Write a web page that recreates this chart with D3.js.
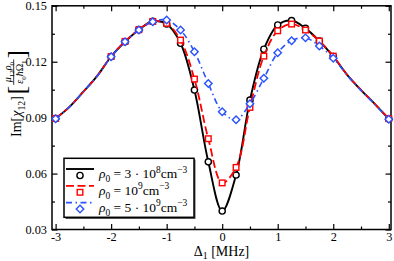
<!DOCTYPE html>
<html>
<head>
<meta charset="utf-8">
<script src="https://cdn.jsdelivr.net/npm/d3@7"></script>
<style>
  body { margin: 0; background: #fff; }
  svg { display: block; }
</style>
</head>
<body>
<div id="chart"></div>
<script>
// detuning grid [MHz] and Im[chi12] for the three densities
var detuning = [-3, -2.75, -2.5, -2.25, -2, -1.75, -1.5, -1.25, -1, -0.75, -0.5, -0.25,
                0, 0.25, 0.5, 0.75, 1, 1.25, 1.5, 1.75, 2, 2.25, 2.5, 2.75, 3];
var rho3e8 = [0.0895, 0.0958, 0.1039, 0.1124, 0.1228, 0.1307, 0.1372, 0.1417, 0.1402, 0.1299, 0.1048, 0.0663,
              0.0399, 0.0592, 0.0994, 0.1267, 0.1397, 0.1421, 0.1379, 0.1311, 0.1228, 0.1130, 0.1048, 0.0973, 0.0893];
var rho1e9 = [0.0896, 0.0958, 0.1039, 0.1124, 0.1228, 0.1309, 0.1372, 0.1416, 0.1406, 0.1316, 0.1107, 0.0787,
              0.0550, 0.0633, 0.0955, 0.1230, 0.1366, 0.1402, 0.1370, 0.1311, 0.1230, 0.1130, 0.1048, 0.0973, 0.0895];
var rho5e9 = [0.0894, 0.0958, 0.1039, 0.1124, 0.1227, 0.1307, 0.1370, 0.1415, 0.1424, 0.1370, 0.1254, 0.1083,
              0.0932, 0.0889, 0.0975, 0.1111, 0.1248, 0.1313, 0.1328, 0.1284, 0.1219, 0.1128, 0.1046, 0.0971, 0.0891];
// detunings where a symbol is drawn
var markerDetuning = [-3, -2, -1.75, -1.5, -1.25, -1, -0.75, -0.5, -0.25, 0, 0.25, 0.5, 0.75, 1, 1.25, 1.5, 1.75, 2, 3];

var xTicks = [-3, -2, -1, 0, 1, 2, 3];
var xTickLabels = ["-3", "-2", "-1", "0", "1", "2", "3"];
var xMinorTicks = [-2.5, -1.5, -0.5, 0.5, 1.5, 2.5];
var yTicks = [0.03, 0.06, 0.09, 0.12, 0.15];
var yTickLabels = ["0.03", "0.06", "0.09", "0.12", "0.15"];
var yMinorTicks = [0.045, 0.075, 0.105, 0.135];

var width = 394, height = 261;
var plotLeft = 52, plotRight = 391, plotTop = 5.8, plotBottom = 229.5;
var FONT = "'Liberation Serif', 'Times New Roman', serif";

var svg = d3.select("#chart").append("svg")
    .attr("width", width)
    .attr("height", height)
    .style("font-family", FONT);

var x = d3.scaleLinear().domain([-3.065, 3.04]).range([plotLeft, plotRight]);
var y = d3.scaleLinear().domain([0.03, 0.15]).range([plotBottom, plotTop]);

// writes text with italic / sub / sup pieces as tspans
function richText(sel, parts, size, subShift) {
    var shift = 0;
    subShift = subShift || 0.3;
    parts.forEach(function (p) {
        var kind = p[1] || "";
        var target = kind.indexOf("sub") >= 0 ? size * subShift : (kind.indexOf("sup") >= 0 ? -size * 0.42 : 0);
        var t = sel.append("tspan").text(p[0]).attr("dy", target - shift);
        if (kind.indexOf("sub") >= 0 || kind.indexOf("sup") >= 0) t.attr("font-size", size * 0.7);
        if (kind.charAt(0) === "i") t.attr("font-style", "italic");
        shift = target;
    });
}

// axes, ticks pointing inward on all four sides
function styleAxis(g) {
    g.select(".domain").remove();
    g.selectAll("line").attr("stroke", "#000").attr("stroke-width", 1.2);
    g.selectAll("text").attr("fill", "#000").style("font-family", FONT).attr("font-size", 12.3);
}
svg.append("g").attr("transform", "translate(0," + plotBottom + ")")
    .call(d3.axisBottom(x).tickValues(xTicks).tickFormat(function (d, i) { return xTickLabels[i]; })
        .tickSizeInner(-5.5).tickSizeOuter(0).tickPadding(2.6))
    .call(styleAxis);
svg.append("g").attr("transform", "translate(0," + plotBottom + ")")
    .call(d3.axisBottom(x).tickValues(xMinorTicks).tickFormat("").tickSizeInner(-3).tickSizeOuter(0))
    .call(styleAxis);
svg.append("g").attr("transform", "translate(0," + plotTop + ")")
    .call(d3.axisTop(x).tickValues(xTicks).tickFormat("").tickSizeInner(-5.5).tickSizeOuter(0))
    .call(styleAxis);
svg.append("g").attr("transform", "translate(0," + plotTop + ")")
    .call(d3.axisTop(x).tickValues(xMinorTicks).tickFormat("").tickSizeInner(-3).tickSizeOuter(0))
    .call(styleAxis);
svg.append("g").attr("transform", "translate(" + plotLeft + ",0)")
    .call(d3.axisLeft(y).tickValues(yTicks).tickFormat(function (d, i) { return yTickLabels[i]; })
        .tickSizeInner(-5.5).tickSizeOuter(0).tickPadding(5))
    .call(styleAxis);
svg.append("g").attr("transform", "translate(" + plotLeft + ",0)")
    .call(d3.axisLeft(y).tickValues(yMinorTicks).tickFormat("").tickSizeInner(-3).tickSizeOuter(0))
    .call(styleAxis);
svg.append("g").attr("transform", "translate(" + plotRight + ",0)")
    .call(d3.axisRight(y).tickValues(yTicks).tickFormat("").tickSizeInner(-5.5).tickSizeOuter(0))
    .call(styleAxis);
svg.append("g").attr("transform", "translate(" + plotRight + ",0)")
    .call(d3.axisRight(y).tickValues(yMinorTicks).tickFormat("").tickSizeInner(-3).tickSizeOuter(0))
    .call(styleAxis);

svg.append("rect")
    .attr("x", plotLeft).attr("y", plotTop)
    .attr("width", plotRight - plotLeft).attr("height", plotBottom - plotTop)
    .attr("fill", "none").attr("stroke", "#000").attr("stroke-width", 1.5);

// series
var series = [
    { values: rho3e8, color: "#000000", dash: null, width: 1.9, symbol: "circle",
      label: [["ρ", "i"], ["0", "sub"], [" = 3 · 10", ""], ["8", "sup"], ["cm", ""], ["−3", "sup"]] },
    { values: rho1e9, color: "#ff0000", dash: "8,3.5", width: 1.8, symbol: "square",
      label: [["ρ", "i"], ["0", "sub"], [" = 10", ""], ["9", "sup"], ["cm", ""], ["−3", "sup"]] },
    { values: rho5e9, color: "#2a52ff", dash: "6,3.5,1.5,3.5", width: 1.6, symbol: "diamond",
      label: [["ρ", "i"], ["0", "sub"], [" = 5 · 10", ""], ["9", "sup"], ["cm", ""], ["−3", "sup"]] }
];

var line = d3.line()
    .x(function (d) { return x(d[0]); })
    .y(function (d) { return y(d[1]); })
    .curve(d3.curveCatmullRom.alpha(0.5));

function drawSymbol(g, kind, color) {
    if (kind === "circle") {
        g.append("circle").attr("r", 3.1);
    } else if (kind === "square") {
        g.append("rect").attr("x", -2.8).attr("y", -2.8).attr("width", 5.6).attr("height", 5.6);
    } else {
        g.append("path").attr("d", d3.symbol(d3.symbolSquare, 28)()).attr("transform", "rotate(45)");
    }
    g.selectAll("*").attr("fill", "#fff").attr("stroke", color).attr("stroke-width", 1.4);
}

series.forEach(function (s) {
    var pts = detuning.map(function (d, i) { return [d, s.values[i]]; });
    svg.append("path")
        .attr("d", line(pts))
        .attr("fill", "none")
        .attr("stroke", s.color)
        .attr("stroke-width", s.width)
        .attr("stroke-dasharray", s.dash);
    svg.selectAll(null)
        .data(pts.filter(function (p) { return markerDetuning.indexOf(p[0]) >= 0; }))
        .enter().append("g")
        .attr("transform", function (d) { return "translate(" + x(d[0]) + "," + y(d[1]) + ")"; })
        .each(function () { drawSymbol(d3.select(this), s.symbol, s.color); });
});

// legend
var lg = svg.append("g");
lg.append("rect").attr("x", 65.5).attr("y", 159.5).attr("width", 130).attr("height", 59.5).attr("fill", "#555");
lg.append("rect").attr("x", 64).attr("y", 158.3).attr("width", 130).attr("height", 59)
    .attr("fill", "#fff").attr("stroke", "#000").attr("stroke-width", 1.5);
series.forEach(function (s, i) {
    var ly = 169 + i * 16.8;
    lg.append("line").attr("x1", 66).attr("x2", 94).attr("y1", ly).attr("y2", ly)
        .attr("stroke", s.color).attr("stroke-width", s.width).attr("stroke-dasharray", s.dash);
    drawSymbol(lg.append("g").attr("transform", "translate(80," + (ly + 6.5) + ")"), s.symbol, s.color);
    var t = lg.append("text").attr("x", 99).attr("y", ly + 9.3).attr("font-size", 13.5).attr("fill", "#000");
    richText(t, s.label, 13.5);
});

// x axis title
var xt = svg.append("text").attr("x", 221.5).attr("y", 256)
    .attr("text-anchor", "middle").attr("font-size", 14).attr("fill", "#000");
richText(xt, [["Δ", ""], ["1", "sub"], [" [MHz]", ""]], 14, 0.18);

// y axis title with bracketed fraction
var yl = svg.append("g").attr("transform", "translate(20.5,137) rotate(-90)");
var imText = yl.append("text").attr("x", 0).attr("y", 0).attr("font-size", 14).attr("fill", "#000");
richText(imText, [["Im[", ""], ["χ", "i"], ["12", "sub"], ["]", ""]], 14);
var x0 = imText.node().getComputedTextLength() + 2;
var openB = yl.append("text").attr("x", x0).attr("y", 4.5).attr("font-size", 25).attr("fill", "#000").text("[");
var bw = openB.node().getComputedTextLength();
var num = yl.append("text").attr("y", -9.3).attr("font-size", 10).attr("fill", "#000").attr("text-anchor", "middle");
richText(num, [["μ", "i"], ["12", "sub"], ["ρ", "i"], ["0", "sub"]], 10);
var den = yl.append("text").attr("y", 2.3).attr("font-size", 10).attr("fill", "#000").attr("text-anchor", "middle");
richText(den, [["ε", "i"], ["0", "sub"], ["ħ", "i"], ["Ω", ""], ["1", "sub"]], 10);
var fw = Math.max(num.node().getComputedTextLength(), den.node().getComputedTextLength()) + 2;
var cx = x0 + bw + 1 + fw / 2;
num.attr("x", cx);
den.attr("x", cx);
yl.append("line").attr("x1", cx - fw / 2).attr("x2", cx + fw / 2).attr("y1", -6.8).attr("y2", -6.8)
    .attr("stroke", "#000").attr("stroke-width", 0.8);
yl.append("text").attr("x", cx + fw / 2 + 1).attr("y", 4.5).attr("font-size", 25).attr("fill", "#000").text("]");
</script>
</body>
</html>
